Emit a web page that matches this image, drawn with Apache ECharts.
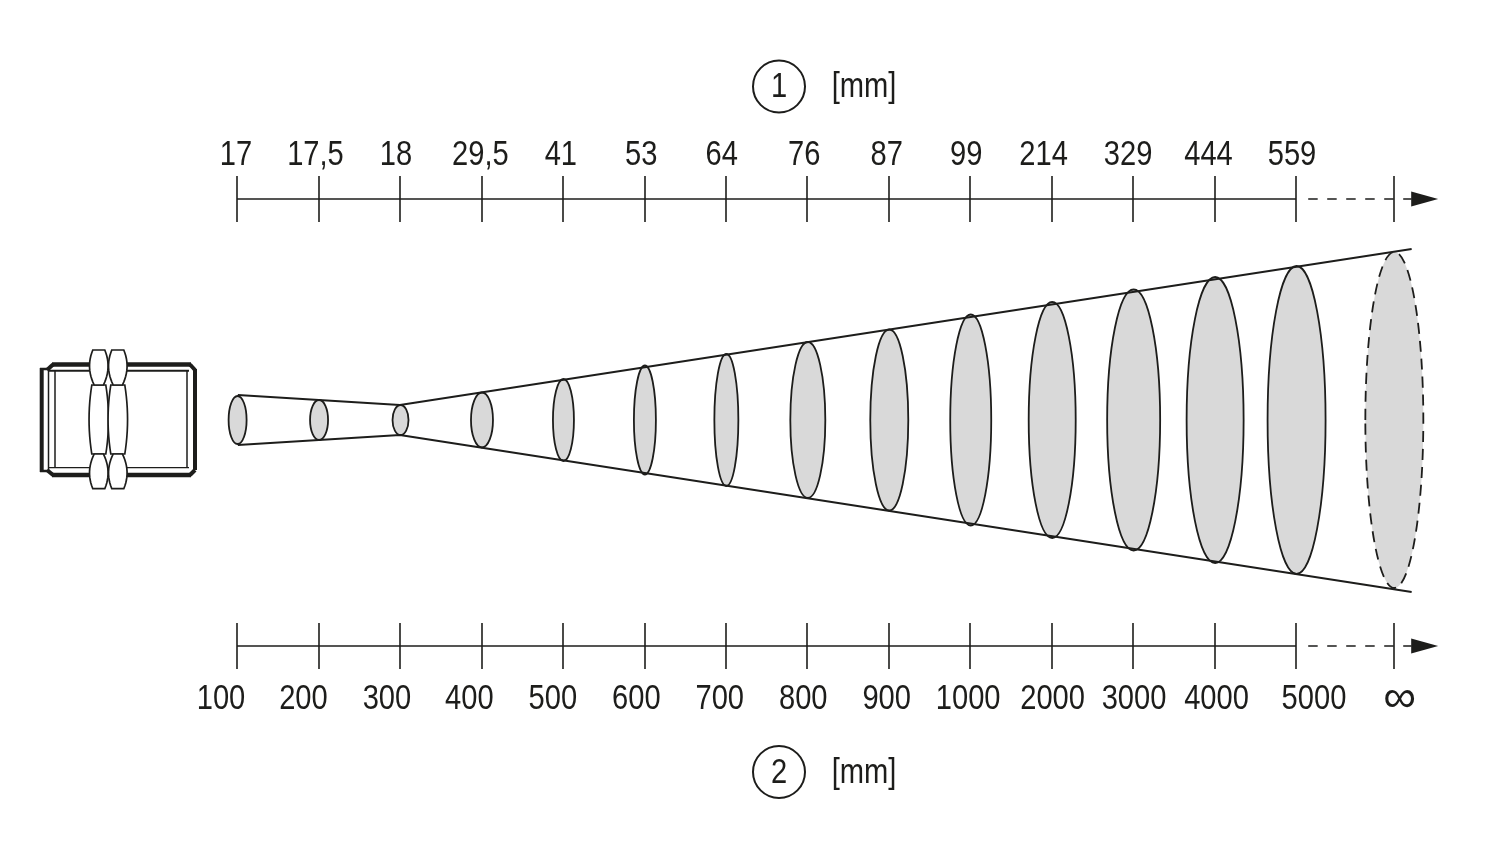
<!DOCTYPE html>
<html lang="en">
<head>
<meta charset="UTF-8">
<title>Spot diameter vs distance</title>
<script src="https://cdn.jsdelivr.net/npm/echarts@6/dist/echarts.min.js"></script>
<style>html,body{margin:0;background:#fff}</style>
</head>
<body>
<div id="main" style="width:1500px;height:848px;"></div>
<script>
// scale labels
const spotLabels = ['17','17,5','18','29,5','41','53','64','76','87','99','214','329','444','559'];
const distanceLabels = ['100','200','300','400','500','600','700','800','900','1000','2000','3000','4000','5000','∞'];
// tick positions on the distance scale (last one is the open end)
const tickSteps = [0,1,2,3,4,5,6,7,8,9,10,11,12,13,14.2];
// drawn spot sizes, same order as tickSteps
const spotHeights = [48,40,30,55,82,109,132,156,181,211,236,261,286,308,336];
const spotWidths = [18,18,16,22,21,22,24,35,38,41,47,53,57,58,58];
// beam outline
const beamSteps = [0.01,2,14.42];
const beamUpper = [25,15,171];
const beamLower = [-25,-15,-172];

// label nudges in px, the original labels are not centred on their ticks
const topNudge = [-1,-3,-4,-1,-2,-3,-4,-3,-2,-4,-8,-5,-6,-4];
const bottomNudge = [-16,-15,-13,-12,-10,-8,-6,-4,-2,-2,1,1,2,18,6];

const stepPx = 81.46, originPx = 237;
const ink = '#1d1d1b';
const labelFont = '35.5px "Liberation Sans",sans-serif';
const bigFont = '46px "Liberation Sans",sans-serif';
const squeeze = 0.82; // the original type is a narrow grotesque

function tickAxis(gridIndex, position, offset, inside) {
    return {
        type: 'value',
        gridIndex: gridIndex,
        position: position,
        offset: offset,
        min: -originPx / stepPx,
        max: (1500 - originPx) / stepPx,
        splitLine: { show: false },
        axisLine: { show: false, onZero: false },
        axisTick: { show: true, inside: inside, length: 23, customValues: tickSteps, lineStyle: { color: ink, width: 1.6 } },
        axisLabel: { show: false }
    };
}

function hiddenY(gridIndex) {
    return { type: 'value', gridIndex: gridIndex, show: false, min: -428, max: 420 };
}

function lineSeries(data, dash, width) {
    return {
        type: 'line',
        data: data,
        symbol: 'none',
        silent: true,
        lineStyle: { color: ink, width: width, type: dash ? [9.5, 9.5] : 'solid' }
    };
}

function labelSeries(labels, nudge, level) {
    return {
        type: 'custom',
        silent: true,
        data: labels.map((t, i) => [tickSteps[i] + nudge[i] / stepPx, level]),
        encode: { x: 0, y: 1 },
        renderItem: function (params, api) {
            const c = api.coord([api.value(0), api.value(1)]);
            const text = labels[params.dataIndex];
            const big = text === '∞';
            return {
                type: 'text',
                x: c[0],
                y: c[1],
                scaleX: big ? 1 : squeeze,
                style: { text: text, fill: ink, font: big ? bigFont : labelFont, align: 'center', verticalAlign: 'middle' }
            };
        }
    };
}

const topY = 221, bottomY = -226, solidEnd = 13, dashStart = 13.15, dashEnd = 14.42;
const topLabelY = 265, bottomLabelY = -279;

// sensor drawing, plain outline so it stays in px
function bend(x0, y0, cx, cy, x1, y1) {
    const pts = [];
    for (let k = 0; k <= 12; k++) {
        const t = k / 12, u = 1 - t;
        pts.push([u * u * x0 + 2 * u * t * cx + t * t * x1, u * u * y0 + 2 * u * t * cy + t * t * y1]);
    }
    return pts;
}

function face(cx, yA, yB, wA, wB, bulge) {
    const mid = (yA + yB) / 2;
    const pts = bend(cx - wA, yA, cx - bulge, mid, cx - wB, yB)
        .concat(bend(cx + wB, yB, cx + bulge, mid, cx + wA, yA));
    return {
        type: 'polygon',
        shape: { points: pts },
        style: { fill: '#fff', stroke: ink, lineWidth: 1.7 }
    };
}

function nut(cx) {
    return [
        face(cx, 385, 454, 7, 7, 12.5),
        face(cx, 350, 385, 6, 4.6, 13.2),
        face(cx, 488.7, 454, 6, 4.6, 13.2)
    ];
}

function seg(x1, y1, x2, y2, w) {
    return { type: 'line', shape: { x1, y1, x2, y2 }, style: { stroke: ink, lineWidth: w } };
}

const sensor = [
    seg(40, 369, 48, 369, 2.5), seg(40, 471, 48, 471, 2.5),
    seg(41.7, 368, 41.7, 472, 4), seg(48.5, 369, 48.5, 471, 1.5), seg(55, 370, 55, 468, 1.5),
    seg(47, 370, 53, 364.5, 4), seg(47, 470, 53, 475, 4),
    seg(52, 364.5, 191, 364.5, 4.3), seg(52, 475, 191, 475, 4.3),
    seg(48, 370.8, 189, 370.8, 2), seg(48, 467.7, 189, 467.7, 1.2),
    seg(187, 370, 187, 468, 1.5), seg(195, 369, 195, 470, 4),
    seg(190, 364.5, 195, 370, 4), seg(190, 475, 195, 470, 4)
].concat(nut(98.8), nut(117.8));

function marker(digit, cy) {
    return [
        { type: 'circle', shape: { cx: 779, cy: cy, r: 26 }, style: { fill: '#fff', stroke: ink, lineWidth: 2 } },
        { type: 'text', x: 779, y: cy + 1, scaleX: squeeze, style: { text: digit, fill: ink, font: labelFont, align: 'center', verticalAlign: 'middle' } },
        { type: 'text', x: 864, y: cy + 1, scaleX: squeeze, style: { text: '[mm]', fill: ink, font: labelFont, align: 'center', verticalAlign: 'middle' } }
    ];
}

const frame = { left: 0, top: 0, width: 1500, height: 848 };
const chart = echarts.init(document.getElementById('main'));
chart.setOption({
    animation: false,
    backgroundColor: '#fff',
    grid: [frame, frame],
    xAxis: [
        tickAxis(0, 'top', -199, false),
        tickAxis(0, 'bottom', -202, false),
        tickAxis(1, 'top', -199, true),
        tickAxis(1, 'bottom', -202, true)
    ],
    yAxis: [hiddenY(0), hiddenY(1)],
    graphic: sensor.concat(marker('1', 86.5), marker('2', 772)),
    series: [
        lineSeries(beamSteps.map((s, i) => [s, beamUpper[i]]), false, 2),
        lineSeries(beamSteps.map((s, i) => [s, beamLower[i]]), false, 2),
        lineSeries([[0, topY], [solidEnd, topY]], false, 1.5),
        lineSeries([[dashStart, topY], [dashEnd, topY]], true, 1.5),
        lineSeries([[0, bottomY], [solidEnd, bottomY]], false, 1.5),
        lineSeries([[dashStart, bottomY], [dashEnd, bottomY]], true, 1.5),
        labelSeries(spotLabels, topNudge, topLabelY),
        labelSeries(distanceLabels, bottomNudge, bottomLabelY),
        {
            type: 'scatter',
            silent: true,
            symbol: 'triangle',
            symbolRotate: -90,
            symbolSize: [15, 27],
            itemStyle: { color: ink, opacity: 1 },
            data: [[14.58, topY], [14.58, bottomY]]
        },
        {
            type: 'custom',
            silent: true,
            data: tickSteps.map((s, i) => [s, spotWidths[i], spotHeights[i]]),
            encode: { x: 0, y: 2 },
            renderItem: function (params, api) {
                const c = api.coord([api.value(0), 0]);
                const rx = api.size([0, api.value(1)])[1] / 2;
                const ry = api.size([0, api.value(2)])[1] / 2;
                const open = params.dataIndex === tickSteps.length - 1;
                return {
                    type: 'ellipse',
                    shape: { cx: c[0] + 0.6, cy: c[1], rx: rx, ry: ry },
                    style: { fill: '#d9d9d9', stroke: ink, lineWidth: 1.8, lineDash: open ? [11, 7] : null }
                };
            }
        }
    ]
});
</script>
</body>
</html>
